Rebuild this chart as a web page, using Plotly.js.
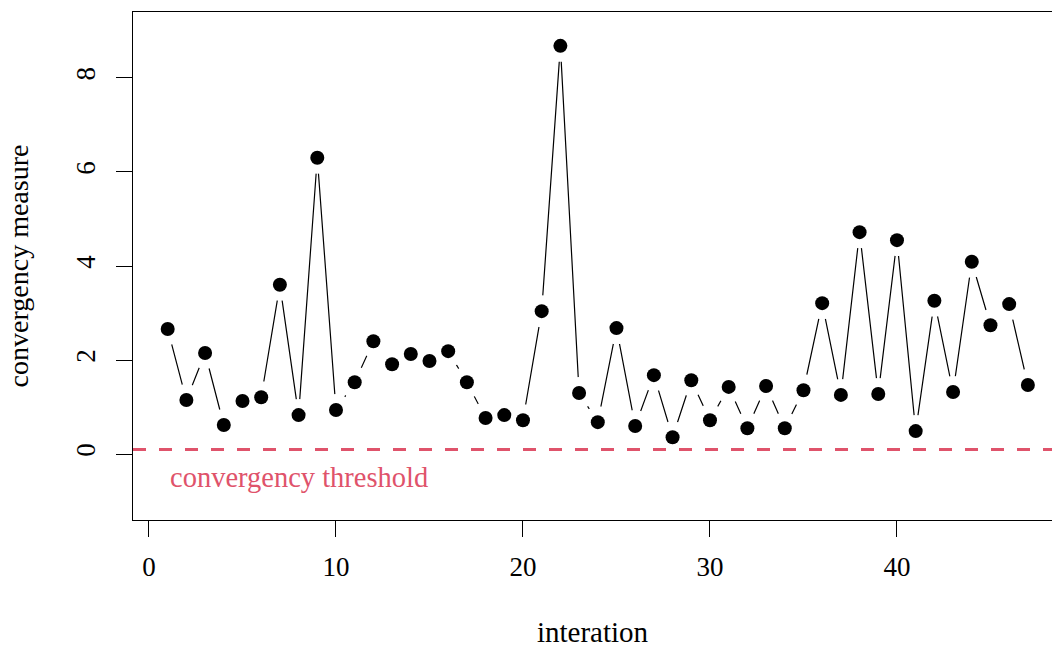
<!DOCTYPE html>
<html>
<head>
<meta charset="utf-8">
<script src="https://cdn.plot.ly/plotly-3.0.1.min.js"></script>
<style>html,body{margin:0;padding:0;background:#fff;}#chart{width:1052px;height:648px;}</style>
</head>
<body>
<div id="chart"></div>
<script>
const iterations = [1,2,3,4,5,6,7,8,9,10,11,12,13,14,15,16,17,18,19,20,21,22,23,24,25,26,27,28,29,30,31,32,33,34,35,36,37,38,39,40,41,42,43,44,45,46,47];
const convergency = [2.66,1.15,2.15,0.62,1.13,1.21,3.60,0.83,6.30,0.94,1.53,2.40,1.91,2.13,1.98,2.19,1.53,0.77,0.83,0.72,3.04,8.68,1.30,0.68,2.68,0.60,1.68,0.36,1.57,0.72,1.43,0.55,1.45,0.55,1.36,3.21,1.26,4.72,1.28,4.55,0.49,3.26,1.32,4.09,2.74,3.19,1.47];
const threshold = 0.1;
const xTicks = [0,10,20,30,40];
const yTicks = [0,2,4,6,8];
const thresholdLabel = "convergency threshold";

const FONT = "Liberation Serif, Times New Roman, serif";
const RED = "#DF536B";

const traces = [
  {x: iterations, y: convergency, type: "scatter", mode: "lines",
   line: {color: "#000", width: 1.2}, hoverinfo: "skip", showlegend: false},
  {x: iterations, y: convergency, type: "scatter", mode: "markers",
   marker: {color: "#fff", size: 32, line: {width: 0}}, hoverinfo: "skip", showlegend: false},
  {x: iterations, y: convergency, type: "scatter", mode: "markers",
   marker: {color: "#000", size: 14, line: {width: 0}}, showlegend: false}
];

const layout = {
  width: 1052, height: 648,
  margin: {l: 133, r: 0, t: 12, b: 128, pad: 0},
  paper_bgcolor: "#fff", plot_bgcolor: "#fff",
  font: {family: FONT, size: 27, color: "#000"},
  showlegend: false,
  xaxis: {
    range: [-0.855, 48.29], tickvals: xTicks, ticktext: xTicks.map(String),
    ticks: "outside", ticklen: 16, tickwidth: 1, tickcolor: "#000",
    showline: true, mirror: true, linecolor: "#000", linewidth: 1,
    showgrid: false, zeroline: false, ticklabelstandoff: 7,
    tickfont: {family: FONT, size: 27, color: "#000"},
    title: {text: "interation", font: {family: FONT, size: 29, color: "#000"}, standoff: 46}
  },
  yaxis: {
    range: [-1.4, 9.4], tickvals: yTicks, ticktext: yTicks.map(String),
    ticks: "outside", ticklen: 16, tickwidth: 1, tickcolor: "#000",
    showline: true, mirror: false, linecolor: "#000", linewidth: 1,
    showgrid: false, zeroline: false, tickangle: -90, ticklabelstandoff: 10,
    tickfont: {family: FONT, size: 27, color: "#000"},
    title: {text: "convergency measure", font: {family: FONT, size: 28, color: "#000"}, standoff: 34}
  },
  shapes: [
    {type: "line", xref: "paper", x0: 0, x1: 1, yref: "y", y0: threshold, y1: threshold,
     line: {color: RED, width: 3, dash: "13px,13px"}, layer: "above"}
  ],
  annotations: [
    {x: 1, y: -0.5, xref: "x", yref: "y", text: thresholdLabel, showarrow: false,
     xanchor: "left", yanchor: "middle", font: {family: FONT, size: 28.5, color: RED}}
  ]
};

Plotly.newPlot("chart", traces, layout, {staticPlot: true, displayModeBar: false});
</script>
</body>
</html>
